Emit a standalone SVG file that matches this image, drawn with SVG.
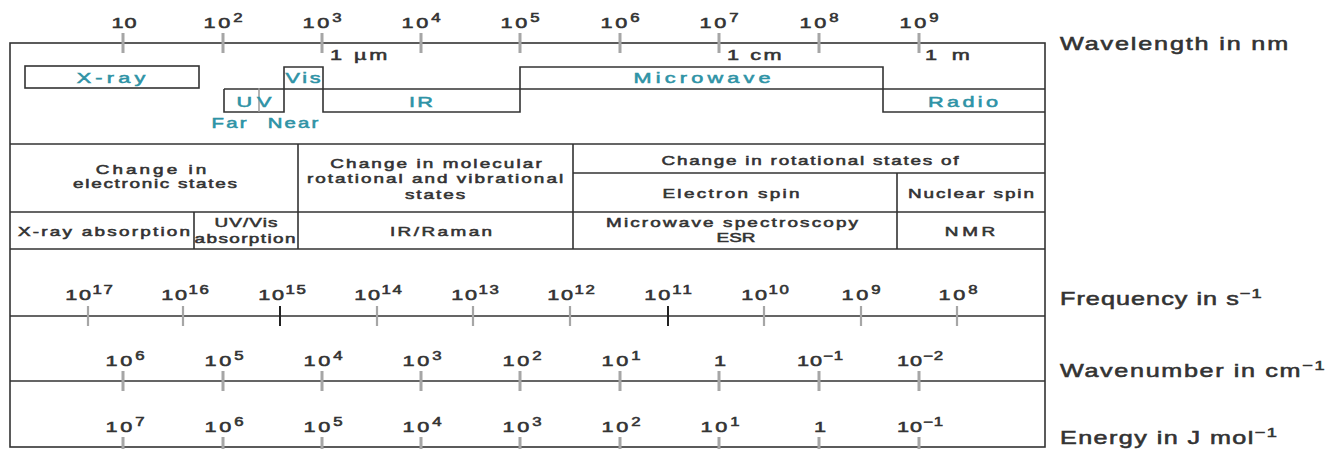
<svg xmlns="http://www.w3.org/2000/svg" width="1329" height="449" viewBox="0 0 1329 449">
<style>
text{font-family:"Liberation Sans",Arial,sans-serif;fill:#333;stroke:#333;stroke-width:0.55}
.t{font-size:15.5px;text-anchor:middle}
.sup{font-size:12px}
.side{font-size:18px}
.band{font-size:15.5px;fill:#2f93a6;stroke:#2f93a6;text-anchor:middle}
.unit{font-size:15.5px}
.cell{font-size:13.5px;text-anchor:middle}
.ln{stroke:#333;stroke-width:1.6;fill:none}
.tk{stroke:#a6a6a6;stroke-width:3}
.tk2{stroke:#a6a6a6;stroke-width:2.2}
.tkb{stroke:#222;stroke-width:2}
</style>
<rect width="1329" height="449" fill="#fff"/>
<g id="connectors">
<rect class="ln" x="10" y="43" width="1035" height="404"/>
<path class="ln" d="M10 144H1045M10 212H1045M10 249H1045M10 316H1045M10 381H1045M573 173H1045M298 144V249M573 144V249M897 173V249M194 212V249"/>
<rect class="ln" x="25" y="66" width="174" height="22"/>
<path class="ln" d="M224 89H1045M224 89V112H284V67H323V112H520V67H883V112H1045"/>
<path d="M259 88V112" stroke="#9a9a9a" stroke-width="1.5"/>
</g>
<g id="wavelength-axis">
<path class="tk" d="M123 33V53M223 33V53M322 33V53M421 33V53M520 33V53M620 33V53M719 33V53M819 33V53M919 33V53"/>
<text class="t" transform="translate(124 28) scale(1.4 1)" textLength="18">10</text>
<text class="t" transform="translate(223 28) scale(1.4 1)" textLength="28">10<tspan class="sup" dy="-6">2</tspan></text>
<text class="t" transform="translate(322 28) scale(1.4 1)" textLength="28">10<tspan class="sup" dy="-6">3</tspan></text>
<text class="t" transform="translate(421 28) scale(1.4 1)" textLength="28">10<tspan class="sup" dy="-6">4</tspan></text>
<text class="t" transform="translate(520 28) scale(1.4 1)" textLength="28">10<tspan class="sup" dy="-6">5</tspan></text>
<text class="t" transform="translate(620 28) scale(1.4 1)" textLength="28">10<tspan class="sup" dy="-6">6</tspan></text>
<text class="t" transform="translate(719 28) scale(1.4 1)" textLength="28">10<tspan class="sup" dy="-6">7</tspan></text>
<text class="t" transform="translate(819 28) scale(1.4 1)" textLength="28">10<tspan class="sup" dy="-6">8</tspan></text>
<text class="t" transform="translate(919 28) scale(1.4 1)" textLength="28">10<tspan class="sup" dy="-6">9</tspan></text>
<text class="unit" transform="translate(330 60) scale(1.4 1)" textLength="41">1 µm</text>
<text class="unit" transform="translate(727 60) scale(1.4 1)" textLength="39">1 cm</text>
<text class="unit" transform="translate(925 60) scale(1.4 1)" textLength="32">1 m</text>
<text class="side" transform="translate(1060 50) scale(1.4 1)" textLength="163">Wavelength in nm</text>
</g>
<g id="bands">
<text class="band" transform="translate(111 83) scale(1.4 1)" textLength="49">X-ray</text>
<text class="band" transform="translate(254 107) scale(1.4 1)" textLength="25">UV</text>
<text class="band" transform="translate(303 83) scale(1.4 1)" textLength="25">Vis</text>
<text class="band" transform="translate(421 107) scale(1.4 1)" textLength="17">IR</text>
<text class="band" transform="translate(702 83) scale(1.4 1)" textLength="98">Microwave</text>
<text class="band" transform="translate(963 107) scale(1.4 1)" textLength="50">Radio</text>
<text class="band" transform="translate(229 128) scale(1.4 1)" textLength="25" style="font-size:14.5px">Far</text>
<text class="band" transform="translate(293 128) scale(1.4 1)" textLength="36" style="font-size:14.5px">Near</text>
</g>
<g id="table">
<text class="cell" transform="translate(151 174) scale(1.4 1)" textLength="79">Change in</text>
<text class="cell" transform="translate(155 188) scale(1.4 1)" textLength="117">electronic states</text>
<text class="cell" transform="translate(436 168) scale(1.4 1)" textLength="151">Change in molecular</text>
<text class="cell" transform="translate(435 183) scale(1.4 1)" textLength="183">rotational and vibrational</text>
<text class="cell" transform="translate(435 199) scale(1.4 1)" textLength="43">states</text>
<text class="cell" transform="translate(810 165) scale(1.4 1)" textLength="212">Change in rotational states of</text>
<text class="cell" transform="translate(731 198) scale(1.4 1)" textLength="98">Electron spin</text>
<text class="cell" transform="translate(971 198) scale(1.4 1)" textLength="90">Nuclear spin</text>
<text class="cell" transform="translate(104 236) scale(1.4 1)" textLength="123">X-ray absorption</text>
<text class="cell" transform="translate(246 227) scale(1.4 1)" textLength="45">UV/Vis</text>
<text class="cell" transform="translate(245 243) scale(1.4 1)" textLength="72">absorption</text>
<text class="cell" transform="translate(441 236) scale(1.4 1)" textLength="73">IR/Raman</text>
<text class="cell" transform="translate(732 227) scale(1.4 1)" textLength="180">Microwave spectroscopy</text>
<text class="cell" transform="translate(736 242) scale(1.4 1)">ESR</text>
<text class="cell" transform="translate(970 236) scale(1.4 1)" textLength="36">NMR</text>
</g>
<g id="frequency-axis">
<path class="tk2" d="M88 306V326M183 306V326M377 306V326M473 306V326M570 306V326M764 306V326M861 306V326M957 306V326"/>
<path class="tkb" d="M280 306V326M668 306V326"/>
<text class="t" transform="translate(89 300) scale(1.4 1)" textLength="34">10<tspan class="sup" dy="-6">17</tspan></text>
<text class="t" transform="translate(185 300) scale(1.4 1)" textLength="34">10<tspan class="sup" dy="-6">16</tspan></text>
<text class="t" transform="translate(282 300) scale(1.4 1)" textLength="34">10<tspan class="sup" dy="-6">15</tspan></text>
<text class="t" transform="translate(378 300) scale(1.4 1)" textLength="34">10<tspan class="sup" dy="-6">14</tspan></text>
<text class="t" transform="translate(475 300) scale(1.4 1)" textLength="34">10<tspan class="sup" dy="-6">13</tspan></text>
<text class="t" transform="translate(571 300) scale(1.4 1)" textLength="34">10<tspan class="sup" dy="-6">12</tspan></text>
<text class="t" transform="translate(668 300) scale(1.4 1)" textLength="34">10<tspan class="sup" dy="-6">11</tspan></text>
<text class="t" transform="translate(765 300) scale(1.4 1)" textLength="34">10<tspan class="sup" dy="-6">10</tspan></text>
<text class="t" transform="translate(861 300) scale(1.4 1)" textLength="28">10<tspan class="sup" dy="-6">9</tspan></text>
<text class="t" transform="translate(958 300) scale(1.4 1)" textLength="28">10<tspan class="sup" dy="-6">8</tspan></text>
<text class="side" transform="translate(1060 305) scale(1.4 1)" textLength="144">Frequency in s<tspan class="sup" style="font-size:13px" dy="-7">−1</tspan></text>
</g>
<g id="wavenumber-axis">
<path class="tk" d="M123 371V391M223 371V391M322 371V391M421 371V391M520 371V391M620 371V391M719 371V391M819 371V391M919 371V391"/>
<text class="t" transform="translate(125 366) scale(1.4 1)" textLength="28">10<tspan class="sup" dy="-6">6</tspan></text>
<text class="t" transform="translate(224 366) scale(1.4 1)" textLength="28">10<tspan class="sup" dy="-6">5</tspan></text>
<text class="t" transform="translate(323 366) scale(1.4 1)" textLength="28">10<tspan class="sup" dy="-6">4</tspan></text>
<text class="t" transform="translate(422 366) scale(1.4 1)" textLength="28">10<tspan class="sup" dy="-6">3</tspan></text>
<text class="t" transform="translate(522 366) scale(1.4 1)" textLength="28">10<tspan class="sup" dy="-6">2</tspan></text>
<text class="t" transform="translate(621 366) scale(1.4 1)" textLength="28">10<tspan class="sup" dy="-6">1</tspan></text>
<text class="t" transform="translate(720 366) scale(1.4 1)">1</text>
<text class="t" transform="translate(820 366) scale(1.4 1)" textLength="33">10<tspan class="sup" dy="-6">−1</tspan></text>
<text class="t" transform="translate(920 366) scale(1.4 1)" textLength="33">10<tspan class="sup" dy="-6">−2</tspan></text>
<text class="side" transform="translate(1060 377) scale(1.4 1)" textLength="189">Wavenumber in cm<tspan class="sup" style="font-size:13px" dy="-7">−1</tspan></text>
</g>
<g id="energy-axis">
<path class="tk" d="M123 437V449M223 437V449M322 437V449M421 437V449M520 437V449M620 437V449M719 437V449M819 437V449M919 437V449"/>
<text class="t" transform="translate(125 432) scale(1.4 1)" textLength="28">10<tspan class="sup" dy="-6">7</tspan></text>
<text class="t" transform="translate(224 432) scale(1.4 1)" textLength="28">10<tspan class="sup" dy="-6">6</tspan></text>
<text class="t" transform="translate(323 432) scale(1.4 1)" textLength="28">10<tspan class="sup" dy="-6">5</tspan></text>
<text class="t" transform="translate(422 432) scale(1.4 1)" textLength="28">10<tspan class="sup" dy="-6">4</tspan></text>
<text class="t" transform="translate(522 432) scale(1.4 1)" textLength="28">10<tspan class="sup" dy="-6">3</tspan></text>
<text class="t" transform="translate(621 432) scale(1.4 1)" textLength="28">10<tspan class="sup" dy="-6">2</tspan></text>
<text class="t" transform="translate(720 432) scale(1.4 1)" textLength="28">10<tspan class="sup" dy="-6">1</tspan></text>
<text class="t" transform="translate(820 432) scale(1.4 1)">1</text>
<text class="t" transform="translate(920 432) scale(1.4 1)" textLength="33">10<tspan class="sup" dy="-6">−1</tspan></text>
<text class="side" transform="translate(1060 444) scale(1.4 1)" textLength="155">Energy in J mol<tspan class="sup" style="font-size:13px" dy="-7">−1</tspan></text>
</g>
</svg>
